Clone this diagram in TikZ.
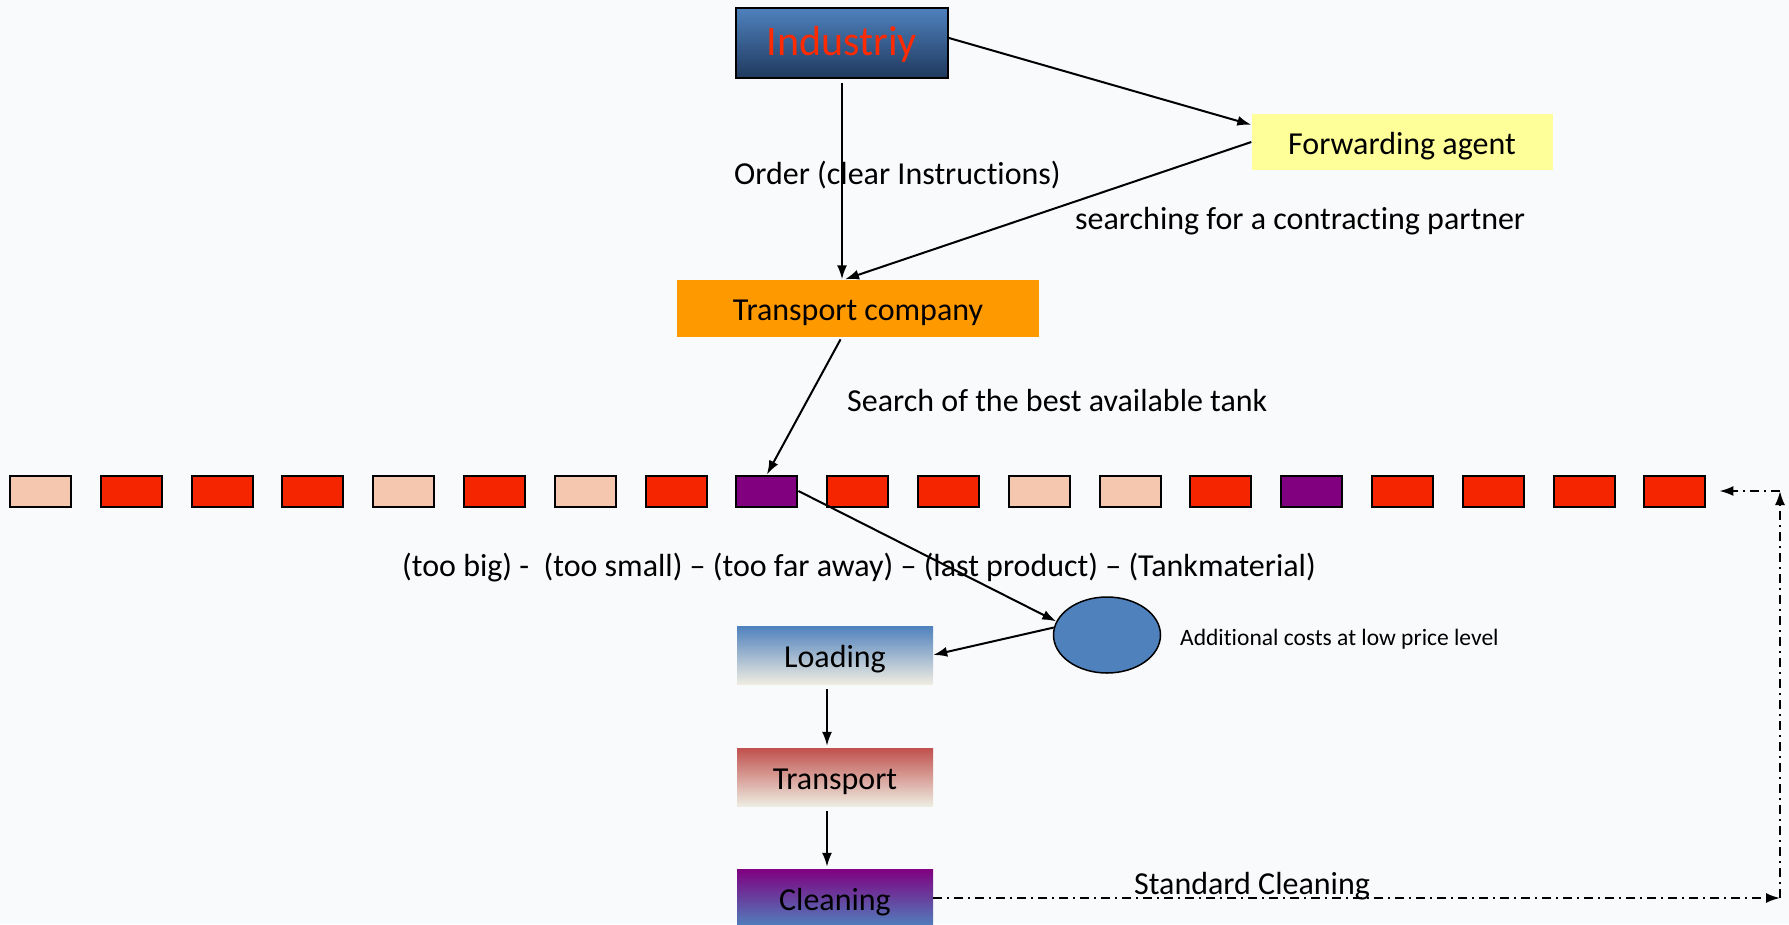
\documentclass[tikz,border=0pt]{standalone}
\usepackage{fontspec}
\setmainfont{Carlito}[Ligatures=NoCommon]
\usetikzlibrary{arrows.meta, shapes.geometric}

\definecolor{paper}{HTML}{F9FAFC}
\definecolor{indtop}{HTML}{4F81BD}
\definecolor{indbottom}{HTML}{1F3A5E}
\definecolor{indtext}{HTML}{FF2A00}
\definecolor{agentyellow}{HTML}{FFFF99}
\definecolor{companyorange}{HTML}{FF9900}
\definecolor{tankred}{HTML}{F52500}
\definecolor{tankpeach}{HTML}{F4C7AE}
\definecolor{tankpurple}{HTML}{800080}
\definecolor{stepblue}{HTML}{4F81BD}
\definecolor{stepred}{HTML}{C0504D}
\definecolor{steppale}{HTML}{EEECE1}

\begin{document}
\begin{tikzpicture}[x=1pt, y=-1pt,
  txt/.style={font=\fontsize{32}{38}\selectfont, inner sep=0pt},
  box/.style={txt, minimum width=196pt, minimum height=58pt, text height=24pt, text depth=0pt},
  tank/.style={draw=black, line width=2pt, minimum width=61pt, minimum height=31pt, inner sep=0pt},
  arr/.style={line width=2pt, -{Latex[length=14pt,width=10pt]}},
  back/.style={line width=2pt, dash pattern=on 9pt off 5pt on 2pt off 5pt, -{Latex[length=14pt,width=10pt]}}]
% Canvas
\fill[paper] (0,0) rectangle (1789,924);
\useasboundingbox (0,0) rectangle (1789,924);
% Draw the top boxes
\node[box, draw=black, line width=2pt, top color=indtop, bottom color=indbottom,
  minimum width=212pt, minimum height=70pt, text=indtext, font=\fontsize{42}{48}\selectfont] (industry) at (842,43) {Industriy};
\node[box, fill=agentyellow, minimum width=301pt, minimum height=56pt] (agent) at (1402,142) {Forwarding agent};
\node[box, fill=companyorange, minimum width=362pt, minimum height=57pt] (company) at (858,308) {Transport company};
% Labels
\node[txt, anchor=west] (orderlabel) at (734,175) {Order (clear Instructions)};
\node[txt, anchor=west] (partnerlabel) at (1075,221) {searching for a contracting partner};
\node[txt, anchor=west] (searchlabel) at (847,401) {Search of the best available tank};
\node[txt, anchor=west] (reasonlabel) at (402,568) {(too big) -~ (too small) -- (too far away) -- (last product) -- (Tankmaterial)};
\node[inner sep=0pt, anchor=west, font=\fontsize{23.5}{28}\selectfont] (costlabel) at (1180,639) {Additional costs at low price level};
\node[txt, anchor=west] (cleanlabel) at (1134,886) {Standard Cleaning};
% Draw the row of tanks
\foreach \c [count=\i from 0] in {peach,red,red,red,peach,red,peach,red,purple,red,red,peach,peach,red,purple,red,red,red,red}
  \node[tank, fill=tank\c] (tank\i) at ({40.5+90.8*\i},491) {};
% Extra costs
\node[ellipse, draw=black, line width=1.5pt, fill=stepblue, minimum width=107pt, minimum height=76pt] (cost) at (1107,635) {};
% Draw the process steps
\node[box, top color=stepblue, bottom color=steppale] (loading) at (835,655) {Loading};
\node[box, top color=stepred, bottom color=steppale] (transport) at (835,777) {Transport};
\node[box, top color=tankpurple, bottom color=stepblue] (cleaning) at (835,898) {Cleaning};
% Arrows
\draw[arr, shorten <=4pt] (industry.south -| 842,0) -- (company.north -| 842,0);
\draw[arr] ([yshift=5pt]industry.east) -- ([yshift=-11pt]agent.north west);
\draw[arr] (agent.west) -- ([xshift=-13pt]company.north);
\draw[arr, shorten <=3pt] ([xshift=-16pt]company.south) -- (tank8.north);
\draw[arr] (tank8.east) -- (cost.165);
\draw[arr] (cost.172) -- (loading.east);
\draw[arr, shorten <=5pt, shorten >=2pt] ([xshift=-8pt]loading.south) -- ([xshift=-8pt]transport.north);
\draw[arr, shorten <=5pt, shorten >=2pt] ([xshift=-8pt]transport.south) -- ([xshift=-8pt]cleaning.north);
% Back to the tank row
\coordinate (turnlow) at (1780,898);
\coordinate (turnhigh) at (1780,491);
\draw[back] (cleaning.east) -- (turnlow);
\draw[back] (turnlow) -- (turnhigh);
\draw[back] (turnhigh) -- ([xshift=13pt]tank18.east);
\end{tikzpicture}
\end{document}
